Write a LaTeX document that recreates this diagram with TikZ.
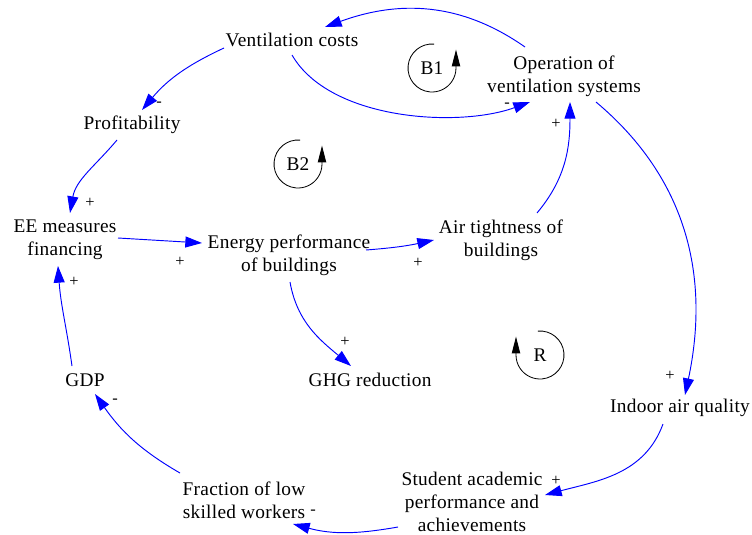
\documentclass[tikz,border=0pt]{standalone}
\usepackage{fontspec}
\setmainfont{Liberation Serif}[LetterSpace=1.5]
\usetikzlibrary{arrows.meta}

\begin{document}
\begin{tikzpicture}[x=0.03cm, y=-0.03cm,
  var/.style={align=center, inner sep=1pt, font=\fontsize{16.5}{19.6}\selectfont},
  link/.style={blue, line width=0.8pt, -{Triangle[length=0.5cm, width=0.33cm]}},
  sign/.style={inner sep=0pt, font=\fontsize{14}{14}\selectfont},
  loopmark/.style={black, line width=0.7pt, -{Triangle[length=0.5cm, width=0.25cm]}}]
\useasboundingbox (0,0) rectangle (752,535);

\node[var] (vc)   at (292,40)  {Ventilation costs};
\node[var] (op)   at (564,76)  {Operation of\\ventilation systems};
\node[var] (prof) at (132,125) {Profitability};
\node[var] (ee)   at (65,240)  {EE measures\\financing};
\node[var] (ep)   at (289,255) {Energy performance\\of buildings};
\node[var] (at)   at (501,240) {Air tightness of\\buildings};
\node[var] (ghg)  at (370,380) {GHG reduction};
\node[var] (gdp)  at (85,380)  {GDP};
\node[var] (iaq)  at (680,408) {Indoor air quality};
\node[var] (sap)  at (472,502) {Student academic\\performance and\\achievements};
\node[var] (fr)   at (244,500) {Fraction of low\\skilled workers};

\draw[link] ([shift={(-39,-29)}]op.center) to[out=145, in=20] ([shift={(33,-13)}]vc.center);
\draw[link] ([shift={(0,15)}]vc.center) to[out=-60, in=200, looseness=0.8] ([shift={(-34,26)}]op.center);
\draw[link] ([shift={(-68,8)}]vc.center) to[out=205, in=50] ([shift={(10,-15)}]prof.center);
\draw[link] ([shift={(-15,15)}]prof.center) to[out=-130, in=80] ([shift={(5,-27)}]ee.center);
\draw[link] ([shift={(53,-2)}]ee.center) -- ([shift={(-87,-12)}]ep.center);
\draw[link] ([shift={(77,-5)}]ep.center) to[bend right=4] ([shift={(-67,0)}]at.center);
\draw[link] ([shift={(36,-27)}]at.center) to[out=50, in=-90] ([shift={(6,26)}]op.center);
\draw[link] ([shift={(32,26)}]op.center) to[out=-40, in=78] ([shift={(5,-13)}]iaq.center);
\draw[link] ([shift={(1,27)}]ep.center) to[out=-80, in=140] ([shift={(-19,-14)}]ghg.center);
\draw[link] ([shift={(-17,16)}]iaq.center) to[out=-110, in=15] ([shift={(73,-7)}]sap.center);
\draw[link] ([shift={(-74,25)}]sap.center) to[out=190, in=-15] ([shift={(49,24)}]fr.center);
\draw[link] ([shift={(-64,-27)}]fr.center) to[out=150, in=-55] ([shift={(10,14)}]gdp.center);
\draw[link] ([shift={(-13,-14)}]gdp.center) to[out=98, in=-86] ([shift={(-7,26)}]ee.center);

\node[sign] (sg-vc-op)   at (507,105) {-};
\node[sign] (sg-at-op)   at (556,124) {+};
\node[sign] (sg-vc-prof) at (159,104) {-};
\node[sign] (sg-prof-ee) at (90,203)  {+};
\node[sign] (sg-ee-ep)   at (180,262) {+};
\node[sign] (sg-gdp-ee)  at (74,282)  {+};
\node[sign] (sg-ep-at)   at (418,263) {+};
\node[sign] (sg-ep-ghg)  at (345,342) {+};
\node[sign] (sg-op-iaq)  at (670,376) {+};
\node[sign] (sg-iaq-sap) at (556,481) {+};
\node[sign] (sg-sap-fr)  at (313,512) {-};
\node[sign] (sg-fr-gdp)  at (115,401) {-};

\node[var] (b1) at (432,68) {B1};
\draw[loopmark] ([shift={(85:0.72cm)}]b1.center) arc[start angle=85, end angle=360, radius=0.72cm] -- ++(0,0.55cm);
\node[var] (b2) at (298,164) {B2};
\draw[loopmark] ([shift={(85:0.72cm)}]b2.center) arc[start angle=85, end angle=360, radius=0.72cm] -- ++(0,0.55cm);
\node[var] (r) at (540,355) {R};
\draw[loopmark] ([shift={(95:0.72cm)}]r.center) arc[start angle=95, end angle=-180, radius=0.72cm] -- ++(0,0.55cm);
\end{tikzpicture}
\end{document}
